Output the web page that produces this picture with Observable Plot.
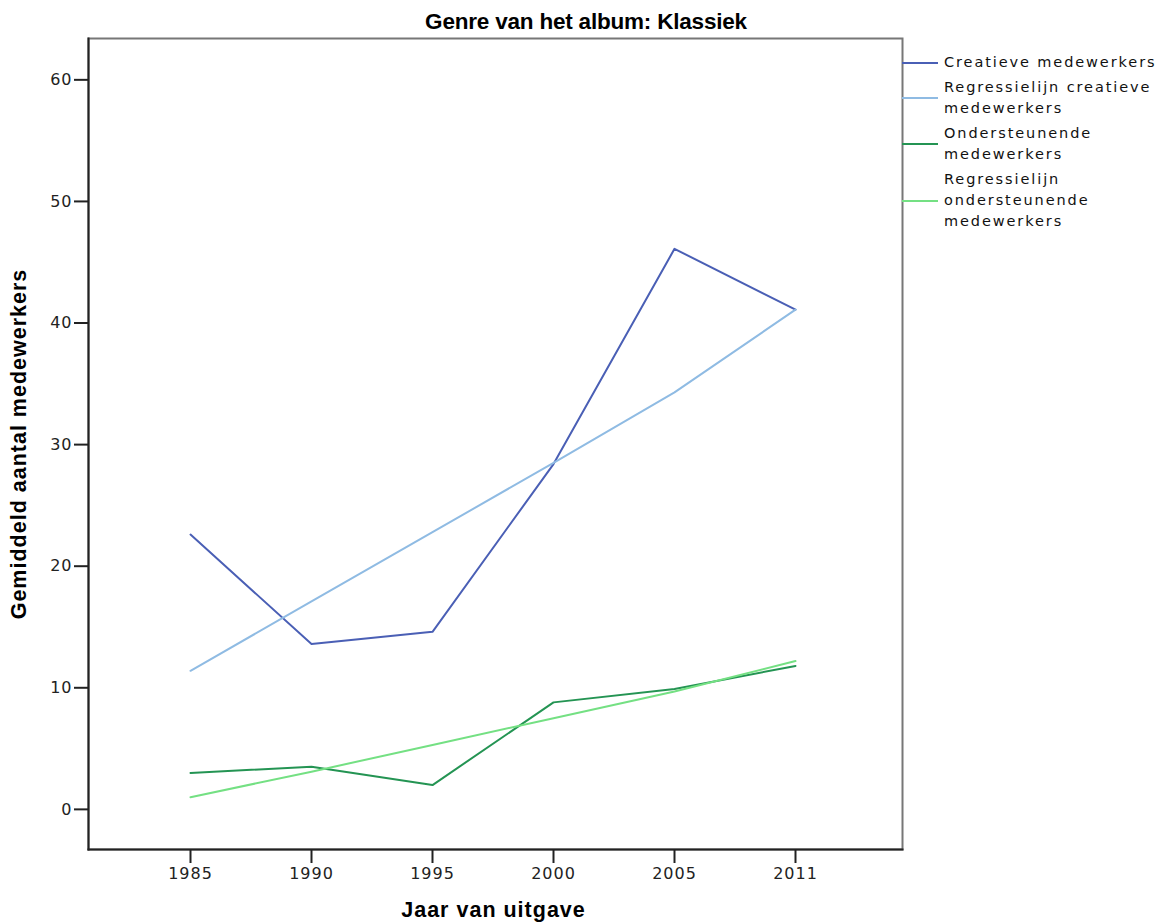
<!DOCTYPE html>
<html>
<head>
<meta charset="utf-8">
<script src="https://cdn.jsdelivr.net/npm/d3@7"></script>
<script src="https://cdn.jsdelivr.net/npm/@observablehq/plot@0.6"></script>
<style>
  body { margin: 0; background: #fff; }
  #wrap { position: relative; width: 1164px; height: 924px; font-family: "Liberation Sans", Arial, sans-serif; }
  #title { position: absolute; left: 0; width: 1172px; top: 9px; text-align: center; font-weight: bold; font-size: 22.5px; line-height: 26px; color: #000; letter-spacing: -0.2px; }
  #chart { position: absolute; left: 0; top: 34px; }
  #legend { position: absolute; left: 900px; top: 52px; font-family: "DejaVu Sans", sans-serif; font-size: 14.5px; letter-spacing: 1.9px; color: #111; }
  .item { position: relative; padding-left: 44px; line-height: 21px; margin-bottom: 4px; white-space: nowrap; }
  .item .sw { position: absolute; left: 2px; width: 36px; height: 2px; }
</style>
</head>
<body>
<div id="wrap">
  <div id="title">Genre van het album: Klassiek</div>
  <div id="chart"></div>
  <div id="legend"></div>
</div>
<script>
const years = ["1985", "1990", "1995", "2000", "2005", "2011"];
const creatieve = [22.6, 13.6, 14.6, 28.4, 46.1, 41.1];
const regCreatieve = [11.4, 17.1, 22.8, 28.5, 34.3, 41.1];
const ondersteunende = [3.0, 3.5, 2.0, 8.8, 9.9, 11.8];
const regOndersteunende = [1.0, 3.1, 5.3, 7.5, 9.7, 12.2];
const seriesNames = ["Creatieve medewerkers", "Regressielijn creatieve medewerkers", "Ondersteunende medewerkers", "Regressielijn ondersteunende medewerkers"];
const legendLabels = [["Creatieve medewerkers"], ["Regressielijn creatieve", "medewerkers"], ["Ondersteunende", "medewerkers"], ["Regressielijn", "ondersteunende", "medewerkers"]];
const colors = ["#4a5fb5", "#8fbbe3", "#249453", "#74e083"];
const yTicks = [0, 10, 20, 30, 40, 50, 60];

const allSeries = [creatieve, regCreatieve, ondersteunende, regOndersteunende];
const data = [];
allSeries.forEach((vals, si) => vals.forEach((v, i) => data.push({series: seriesNames[si], year: years[i], value: v})));

const labelFont = "'Liberation Sans', Arial, sans-serif";
const plot = Plot.plot({
  width: 1164,
  height: 890,
  marginLeft: 88,
  marginRight: 262,
  marginTop: 4,
  marginBottom: 75,
  style: {fontFamily: "'DejaVu Sans', sans-serif", fontSize: "16px", color: "#222", letterSpacing: "1px"},
  x: {type: "point", domain: years, padding: 0.84, align: 0.49, label: null},
  y: {domain: [-3.3, 63.4], label: null},
  color: {domain: seriesNames, range: colors},
  marks: [
    Plot.frame({stroke: "#777", strokeWidth: 2}),
    Plot.frame({anchor: "left", stroke: "#222", strokeWidth: 2}),
    Plot.frame({anchor: "bottom", stroke: "#222", strokeWidth: 2}),
    Plot.axisY({ticks: yTicks, tickSize: 14, tickPadding: 2, tickFormat: d => d, label: null, stroke: "#222", strokeWidth: 2}),
    Plot.axisX({tickSize: 14, tickPadding: 4, label: null, stroke: "#222", strokeWidth: 2}),
    Plot.line(data, {x: "year", y: "value", z: "series", stroke: "series", strokeWidth: 2}),
    Plot.text(["Gemiddeld aantal medewerkers"], {frameAnchor: "left", textAnchor: "middle", dx: -69, rotate: -90, fontWeight: "bold", fontSize: 21.5, fontFamily: labelFont, fill: "#000", style: {letterSpacing: "-0.2px"}}),
    Plot.text(["Jaar van uitgave"], {frameAnchor: "bottom", dy: 67, dx: -2, fontWeight: "bold", fontSize: 21.5, fontFamily: labelFont, fill: "#000"})
  ]
});
document.getElementById("chart").appendChild(plot);

const legend = document.getElementById("legend");
legendLabels.forEach((lines, i) => {
  const div = document.createElement("div");
  div.className = "item";
  div.innerHTML = lines.join("<br>");
  const sw = document.createElement("div");
  sw.className = "sw";
  sw.style.background = colors[i];
  const mid = lines.length === 1 ? 10 : (lines.length === 2 ? 20 : 31);
  sw.style.top = mid + "px";
  div.appendChild(sw);
  legend.appendChild(div);
});
</script>
</body>
</html>
